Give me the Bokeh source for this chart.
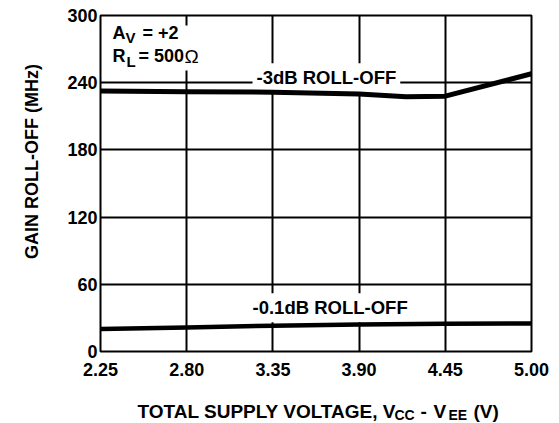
import math
from bokeh.plotting import figure
from bokeh.models import Range1d, FixedTicker, Label, BoxAnnotation, CustomJSTickFormatter
from bokeh.core.properties import value
from bokeh.embed import file_html
from bokeh.resources import INLINE

# ---- data ----
x_upper = [2.25, 2.80, 3.35, 3.90, 4.20, 4.45, 5.00]
gain_3db = [232.5, 232.0, 231.5, 230.0, 227.5, 228.0, 248.0]
x_lower = [2.25, 2.80, 3.35, 3.90, 4.45, 5.00]
gain_01db = [20.0, 21.5, 23.0, 24.0, 24.7, 25.0]
x_ticks = [2.25, 2.80, 3.35, 3.90, 4.45, 5.00]
x_tick_labels = ["2.25", "2.80", "3.35", "3.90", "4.45", "5.00"]
y_ticks = [0, 60, 120, 180, 240, 300]

# ---- layout (canvas pixel coordinates of the frame) ----
W, H = 559, 423
FL, FR, FT, FB = 100, 531, 15, 351
X0, X1, Y0, Y1 = 2.25, 5.0, 0, 300
FONT = "Liberation Sans"


def to_data(px, py):
    return (X0 + (px - FL) * (X1 - X0) / (FR - FL),
            Y0 + (FB - py) * (Y1 - Y0) / (FB - FT))


p = figure(width=W, height=H, x_range=Range1d(X0, X1), y_range=Range1d(Y0, Y1),
           output_backend="svg", toolbar_location=None,
           min_border_left=FL, min_border_right=W - FR,
           min_border_top=FT, min_border_bottom=H - FB)
p.background_fill_color = "white"
p.border_fill_color = "white"
p.outline_line_color = "black"
p.outline_line_width = 2
p.outline_line_alpha = 1

p.xaxis.ticker = FixedTicker(ticks=x_ticks)
p.xaxis.formatter = CustomJSTickFormatter(
    args=dict(xt=x_ticks, xl=x_tick_labels),
    code="const i = xt.findIndex(t => Math.abs(t - tick) < 1e-6); return i >= 0 ? xl[i] : tick.toFixed(2);")
p.yaxis.ticker = FixedTicker(ticks=y_ticks)
for ax in (p.xaxis[0], p.yaxis[0]):
    ax.major_label_text_font = FONT
    ax.major_label_text_font_style = "bold"
    ax.major_label_text_font_size = "18px"
    ax.major_label_text_color = "black"
    ax.major_tick_line_color = None
    ax.minor_tick_line_color = None
    ax.major_tick_out = 0
    ax.major_tick_in = 0
    ax.minor_tick_out = 0
    ax.axis_line_color = None
p.xaxis.major_label_standoff = 11
p.yaxis.major_label_standoff = 3

p.xgrid.ticker = FixedTicker(ticks=x_ticks)
p.ygrid.ticker = FixedTicker(ticks=y_ticks)
for g in (p.xgrid[0], p.ygrid[0]):
    g.grid_line_color = "black"
    g.grid_line_width = 2
    g.grid_line_alpha = 1

p.line(x_upper, gain_3db, line_width=5, line_color="black", level="overlay")
p.line(x_lower, gain_01db, line_width=4.5, line_color="black", level="overlay")

bl, bt = to_data(102, 25)
br, bb = to_data(205, 70)
p.add_layout(BoxAnnotation(left=bl, right=br, top=bt, bottom=bb,
                           fill_color="white", fill_alpha=1, line_color=None))


def px(size):
    return float(size.replace("px", ""))


def add_text(text, x_px, base_px, size="18px", style="bold", align="left",
             angle=0.0, bg=False, place="center", mid=None):
    # positions are given by the text baseline; converted to the em middle
    ymid = mid if mid is not None else base_px - 0.34 * px(size)
    x, y = to_data(x_px, ymid)
    lab = Label(x=x, y=y, text=text, text_font=FONT, text_font_style=style,
                text_font_size=size, text_color="black", text_align=align,
                text_baseline="middle", angle=angle)
    if bg:
        lab.background_fill_color = "white"
        lab.background_fill_alpha = 1
        lab.padding = 4
    p.add_layout(lab, place)


def add_free_text(text, x_px, base_px, size="18px"):
    x, y = to_data(x_px, base_px - 0.34 * px(size))
    p.text(x=[x], y=[y], text=[text], text_font=value(FONT), text_font_style="bold",
           text_font_size=value(size), text_color="black", text_align="left",
           text_baseline="middle", level="overlay")


add_text("A", 112, 39)
add_text("V", 125, 42.5, size="15px")
add_text("= +2", 142, 39)
add_text("R", 112, 62)
add_text("L", 126, 66, size="15px")
add_text("= 500", 138, 62)
add_text("\u03a9", 184, 62, style="normal", size="19px")

add_text("-3dB ROLL-OFF", 252, 83.5, size="18.5px", bg=True)
add_text("-0.1dB ROLL-OFF", 248, 313.5, size="18.5px", bg=True)

add_text("GAIN ROLL-OFF (MHz)", 31, 0, align="center", angle=math.pi / 2,
         place="left", mid=161)

add_free_text("TOTAL SUPPLY VOLTAGE, V", 137, 417, size="19px")
add_free_text("CC", 394, 419.5, size="14px")
add_free_text("-", 420, 417, size="19px")
add_free_text("V", 433, 417, size="19px")
add_free_text("EE", 448, 419.5, size="14px")
add_free_text("(V)", 473, 417, size="19px")

open("out.html", "w").write(file_html(p, INLINE))
